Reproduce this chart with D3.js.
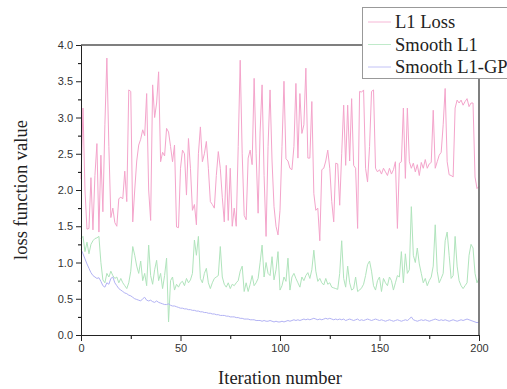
<!DOCTYPE html>
<html>
<head>
<meta charset="utf-8">
<script src="https://cdn.jsdelivr.net/npm/d3@7"></script>
<style>
  body { margin: 0; background: #fff; }
  svg { display: block; }
</style>
</head>
<body>
<svg id="drawing_region"></svg>
<script>
// series values, one per iteration 0..200
const l1Loss = [
  2.15, 3.13, 2.00, 1.46, 1.47, 2.17, 1.45, 2.20, 2.64, 1.42,
  2.48, 1.70, 2.90, 3.82, 2.60, 1.62, 1.75, 1.55, 1.50, 1.88,
  1.90, 1.88, 2.26, 1.84, 3.38, 3.36, 1.56, 2.00, 2.40, 2.62,
  2.70, 2.83, 2.75, 3.33, 2.00, 1.58, 3.45, 3.00, 3.20, 3.63,
  2.39, 2.52, 2.47, 2.85, 2.80, 2.60, 2.39, 2.62, 1.49, 1.48,
  2.30, 2.55, 2.50, 1.93, 2.71, 2.30, 1.72, 1.80, 1.52, 2.50,
  2.87, 2.39, 2.50, 2.67, 2.30, 1.84, 1.80, 1.75, 2.20, 2.53,
  2.30, 1.90, 1.56, 2.34, 1.58, 2.30, 1.50, 1.75, 1.50, 2.60,
  3.79, 2.50, 1.65, 1.59, 2.44, 2.55, 2.35, 3.54, 2.50, 1.68,
  2.80, 3.45, 2.20, 1.36, 2.60, 3.38, 2.40, 1.77, 1.50, 1.38,
  1.72, 2.60, 3.50, 2.43, 2.40, 2.30, 2.28, 2.60, 3.47, 2.44,
  3.33, 2.78, 2.90, 3.68, 2.44, 2.44, 3.22, 1.95, 1.72, 1.75,
  1.30, 2.28, 2.30, 2.40, 2.55, 2.30, 1.84, 1.56, 2.37, 2.36,
  1.79, 2.50, 3.17, 2.34, 3.17, 2.40, 3.26, 2.34, 2.30, 1.47,
  3.36, 3.35, 3.38, 2.30, 2.11, 2.60, 3.36, 3.38, 2.30, 2.25,
  2.28, 2.22, 2.30, 2.25, 2.20, 2.30, 2.22, 2.28, 2.39, 1.47,
  2.37, 2.39, 3.13, 2.16, 3.13, 2.39, 2.30, 2.37, 2.25, 2.35,
  2.20, 2.38, 2.30, 2.42, 2.30, 2.36, 2.38, 3.10, 2.30, 2.39,
  2.48, 2.52, 2.90, 3.40, 2.39, 2.21, 2.20, 2.18, 3.13, 3.24,
  3.20, 3.24, 3.17, 3.22, 3.26, 3.15, 3.20, 3.20, 2.18, 2.02,
  2.05
];
const smoothL1 = [
  1.33, 1.36, 1.15, 1.28, 1.12, 1.25, 1.30, 1.33, 1.34, 1.36,
  1.00, 0.76, 0.72, 0.85, 0.80, 0.88, 0.82, 0.78, 0.80, 0.72,
  0.78, 0.72, 0.68, 0.64, 0.72, 0.88, 1.22, 1.10, 0.95, 0.85,
  1.02, 0.75, 0.85, 0.68, 1.24, 0.82, 0.70, 0.90, 1.03, 0.75,
  0.85, 0.64, 0.82, 1.06, 0.18, 0.75, 0.80, 0.62, 0.70, 0.66,
  0.72, 0.74, 0.68, 0.78, 0.72, 0.76, 0.85, 1.31, 1.10, 1.36,
  0.78, 0.72, 0.85, 0.92, 0.72, 0.64, 0.72, 0.78, 0.80, 0.82,
  1.22, 0.80, 0.70, 0.66, 0.72, 0.64, 0.70, 0.68, 0.72, 0.75,
  0.88, 0.95, 0.60, 0.72, 0.60, 0.70, 0.82, 0.68, 0.72, 0.78,
  1.00, 1.24, 0.80, 1.00, 0.85, 0.82, 1.08, 0.76, 0.90, 1.15,
  0.62, 0.68, 0.80, 0.74, 1.06, 0.62, 0.80, 0.85, 0.78, 0.72,
  0.66, 0.80, 0.75, 0.82, 0.86, 0.78, 0.90, 1.17, 0.88, 0.74,
  0.78, 0.72, 0.69, 0.78, 0.70, 0.72, 0.66, 0.65, 0.64, 0.63,
  0.85, 1.30, 0.78, 0.66, 0.95, 0.72, 0.62, 0.64, 0.80, 0.60,
  0.62, 0.65, 0.70, 0.82, 0.97, 1.02, 0.88, 0.68, 0.62, 0.75,
  0.80, 0.60, 0.78, 0.72, 0.68, 0.80, 0.75, 0.62, 0.72, 0.82,
  0.80, 1.15, 0.72, 1.12, 0.85, 0.90, 1.77, 1.10, 1.00, 1.20,
  0.98, 0.85, 0.72, 0.78, 0.68, 0.75, 0.80, 0.95, 1.52, 0.88,
  0.72, 0.78, 0.85, 1.30, 1.42, 1.10, 0.78, 0.82, 1.36, 0.95,
  0.75, 0.68, 0.64, 0.68, 0.72, 1.10, 1.25, 1.20, 0.85, 0.72,
  0.78
];
const smoothL1GP = [
  1.18, 1.12, 1.05, 0.98, 0.92, 0.86, 0.82, 0.80, 0.78, 0.79,
  0.74, 0.68, 0.66, 0.72, 0.70, 0.78, 0.80, 0.72, 0.68, 0.64,
  0.62, 0.60, 0.58, 0.57, 0.55, 0.54, 0.52, 0.50, 0.49, 0.48,
  0.47, 0.50, 0.52, 0.48, 0.47, 0.48, 0.46, 0.45, 0.47, 0.45,
  0.44, 0.43, 0.42, 0.42, 0.43, 0.41, 0.40, 0.40, 0.39, 0.38,
  0.37, 0.37, 0.36, 0.36, 0.35, 0.35, 0.34, 0.34, 0.33, 0.33,
  0.32, 0.32, 0.31, 0.31, 0.30, 0.30, 0.29, 0.29, 0.28, 0.28,
  0.27, 0.27, 0.27, 0.26, 0.26, 0.25, 0.25, 0.25, 0.24, 0.24,
  0.23, 0.23, 0.22, 0.22, 0.22, 0.21, 0.21, 0.21, 0.20, 0.20,
  0.20, 0.19, 0.20, 0.19, 0.19, 0.20, 0.19, 0.18, 0.19, 0.18,
  0.18, 0.19, 0.18, 0.19, 0.20, 0.19, 0.20, 0.21, 0.20, 0.21,
  0.20, 0.21, 0.22, 0.21, 0.22, 0.21, 0.22, 0.23, 0.22, 0.21,
  0.22, 0.21, 0.22, 0.23, 0.22, 0.23, 0.22, 0.21, 0.22, 0.21,
  0.22, 0.21, 0.22, 0.20, 0.21, 0.22, 0.21, 0.20, 0.21, 0.22,
  0.20, 0.21, 0.20, 0.21, 0.22, 0.21, 0.20, 0.21, 0.22, 0.21,
  0.20, 0.21, 0.20, 0.19, 0.20, 0.21, 0.20, 0.19, 0.20, 0.21,
  0.20, 0.19, 0.20, 0.21, 0.20, 0.22, 0.25, 0.21, 0.20, 0.19,
  0.20, 0.21, 0.20, 0.21, 0.20, 0.19, 0.20, 0.21, 0.22, 0.21,
  0.20, 0.21, 0.20, 0.21, 0.20, 0.19, 0.20, 0.21, 0.20, 0.19,
  0.20, 0.21, 0.20, 0.21, 0.22, 0.21, 0.20, 0.19, 0.18, 0.17,
  0.18
];
const seriesNames = ['L1 Loss', 'Smooth L1', 'Smooth L1-GP'];
const seriesColors = ['#f4a4cb', '#b0e4bc', '#b2b2f4'];
const yMajorTicks = [0, 0.5, 1, 1.5, 2, 2.5, 3, 3.5, 4];
const xMajorTicks = [0, 50, 100, 150, 200];

const width = 507, height = 389;
const margin = {top: 45, right: 28, bottom: 54, left: 81};
const innerW = width - margin.left - margin.right;
const innerH = height - margin.top - margin.bottom;

const svg = d3.select('#drawing_region')
  .attr('width', width)
  .attr('height', height);

const chart = svg.append('g')
  .attr('transform', `translate(${margin.left}, ${margin.top})`);

const xscale = d3.scaleLinear().domain([0, 200]).range([0, innerW]);
const yscale = d3.scaleLinear().domain([0, 4]).range([innerH, 0]);

const line = d3.line()
  .x((d, i) => xscale(i))
  .y(d => yscale(d));

// lines
[l1Loss, smoothL1, smoothL1GP].forEach((s, k) => {
  chart.append('path')
    .attr('d', line(s))
    .attr('fill', 'none')
    .attr('stroke', seriesColors[k])
    .attr('stroke-width', 1);
});

// frame (top + right)
chart.append('path')
  .attr('d', `M0,0H${innerW}V${innerH}`)
  .attr('fill', 'none')
  .attr('stroke', '#555')
  .attr('stroke-width', 1.5);

// minor ticks
const yMinor = d3.axisLeft(yscale)
  .tickValues(d3.range(0.25, 4, 0.5)).tickSize(3).tickFormat('');
chart.append('g').call(yMinor)
  .call(g => g.select('.domain').remove());
const xMinor = d3.axisBottom(xscale)
  .tickValues([25, 75, 125, 175]).tickSize(4).tickFormat('');
chart.append('g').attr('transform', `translate(0, ${innerH})`).call(xMinor)
  .call(g => g.select('.domain').remove());

// major axes
const yaxis = d3.axisLeft(yscale)
  .tickValues(yMajorTicks).tickSize(5).tickSizeOuter(0)
  .tickFormat(d3.format('.1f'));
const yg = chart.append('g').call(yaxis);
const xaxis = d3.axisBottom(xscale)
  .tickValues(xMajorTicks).tickSize(6).tickSizeOuter(0);
const xg = chart.append('g').attr('transform', `translate(0, ${innerH})`).call(xaxis);

[yg, xg].forEach(g => {
  g.selectAll('text')
    .attr('font-family', 'Liberation Sans, Arial, sans-serif')
    .attr('font-size', 11)
    .attr('fill', '#333');
  g.selectAll('line, .domain').attr('stroke', '#222');
});
yg.selectAll('text').attr('x', -8);
xg.selectAll('text').attr('y', 9);

// axis titles
svg.append('text')
  .attr('x', margin.left + innerW / 2)
  .attr('y', 384)
  .attr('text-anchor', 'middle')
  .attr('font-family', 'Liberation Serif, Times New Roman, serif')
  .attr('font-size', 18.5)
  .attr('fill', '#222')
  .text('Iteration number');

svg.append('text')
  .attr('transform', `translate(27, ${margin.top + innerH / 2}) rotate(-90)`)
  .attr('text-anchor', 'middle')
  .attr('font-family', 'Liberation Serif, Times New Roman, serif')
  .attr('font-size', 18.5)
  .attr('fill', '#222')
  .text('loss function value');

// legend
const legend = svg.append('g').attr('transform', 'translate(362, 7)');
legend.append('rect')
  .attr('x', 0.5).attr('y', 0.5)
  .attr('width', 160).attr('height', 71)
  .attr('fill', '#fff')
  .attr('stroke', '#999');
seriesNames.forEach((name, k) => {
  const cy = 15 + k * 22.5;
  legend.append('line')
    .attr('x1', 6).attr('x2', 29)
    .attr('y1', cy).attr('y2', cy)
    .attr('stroke', seriesColors[k])
    .attr('stroke-width', 0.8);
  legend.append('text')
    .attr('x', 33).attr('y', cy + 6)
    .attr('font-family', 'Liberation Serif, Times New Roman, serif')
    .attr('font-size', 18.5)
    .attr('fill', '#222')
    .text(name);
});
</script>
</body>
</html>
